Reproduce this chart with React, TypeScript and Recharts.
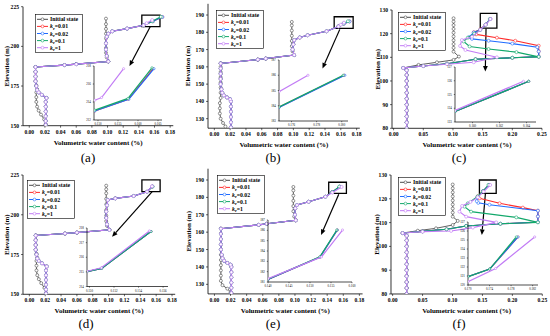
import React from 'react';
import { ScatterChart, Scatter, XAxis, YAxis, ReferenceArea, ReferenceLine } from 'recharts';

type P = [number, number];

// ---------- colours ----------
const C_INIT = '#4a4a4a';
const C_RED = '#ff2b2b';
const C_BLUE = '#1f6bff';
const C_GREEN = '#12a86b';
const C_PURPLE = '#c27cf5';

// ---------- tick labels ----------
const xTicksA = [0, 0.02, 0.04, 0.06, 0.08, 0.1, 0.12, 0.14, 0.16, 0.18];
const xTicksC = [0, 0.05, 0.1, 0.15, 0.2, 0.25];
const yTicksA = [150, 175, 200, 225];
const yTicksB = [130, 140, 150, 160, 170, 180, 190];
const yTicksC = [80, 90, 100, 110, 120, 130];

// ---------- panel (a) ----------
const aInit: P[] = [[0.021,151],[0.019,154],[0.015,157],[0.012,159.5],[0.010,162],[0.009,165],[0.009,168],[0.009,171],[0.010,173],[0.009,175.5],[0.008,178],[0.008,181],[0.008,184],[0.008,187],[0.045,188.2],[0.060,188.8],[0.101,190.5],[0.099,193],[0.098,196],[0.098,199],[0.098,202],[0.098,205],[0.098,208],[0.098,211],[0.098,214],[0.098,217.5]];
const aLow: P[] = [[0.021,150.5],[0.021,153],[0.021,156],[0.021,159],[0.021,162],[0.021,165],[0.022,167.5],[0.016,169.5],[0.012,171],[0.010,172.5],[0.009,175],[0.008,178],[0.008,181],[0.008,184],[0.008,187],[0.045,188.2],[0.060,188.8],[0.101,190.5],[0.099,194],[0.098,198],[0.098,202],[0.099,206],[0.101,208],[0.106,209.5],[0.125,211.2],[0.146,213.3]];
const aRed: P[] = [...aLow, [0.158,215.8],[0.170,218.5]];
const aBlue: P[] = [...aLow, [0.158,215.8],[0.170,218.5]];
const aGreen: P[] = [...aLow, [0.157,215.8],[0.168,218.6]];
const aPurple: P[] = [...aLow, [0.150,214.6],[0.157,216.6]];
const aInsRed: P[] = [[0.1492,213.0],[0.1576,214.3],[0.1638,217.7]];
const aInsBlue: P[] = [[0.1492,213.0],[0.1577,214.3],[0.1640,217.7]];
const aInsGreen: P[] = [[0.1492,213.1],[0.1575,214.4],[0.1635,217.8]];
const aInsPurple: P[] = [[0.1492,214.2],[0.1509,214.5],[0.1564,217.7]];

// ---------- panel (b) ----------
const bInit: P[] = [[0.014,125.5],[0.011,127.5],[0.008,130],[0.007,133],[0.007,136],[0.007,139],[0.008,142],[0.008,145],[0.008,148],[0.008,151],[0.008,154],[0.008,157],[0.008,160],[0.008,162],[0.055,164.2],[0.065,164.8],[0.101,166.8],[0.099,169],[0.098,172],[0.098,175],[0.098,178],[0.098,181],[0.098,184],[0.098,186]];
const bLow: P[] = [[0.021,125],[0.021,128],[0.021,131],[0.021,134],[0.021,137],[0.021,140],[0.020,141.3],[0.016,142.3],[0.012,143.5],[0.010,145],[0.009,147],[0.008,150],[0.008,153],[0.008,156],[0.008,159],[0.008,162],[0.055,164.2],[0.065,164.8],[0.101,166.8],[0.099,170],[0.100,173],[0.101,175.5],[0.108,177],[0.118,178.3],[0.142,180.6],[0.157,183.4]];
const bRed: P[] = [...bLow, [0.164,185],[0.171,186.3]];
const bBlue: P[] = [...bLow, [0.164,185],[0.171,186.3]];
const bGreen: P[] = [...bLow, [0.163,185],[0.169,186.4]];
const bPurple: P[] = [...bLow, [0.160,184.4],[0.164,185.6]];
const bInsRed: P[] = [[0.175,183.9],[0.1802,186]];
const bInsBlue: P[] = [[0.175,183.88],[0.18025,186]];
const bInsGreen: P[] = [[0.175,183.92],[0.18012,186]];
const bInsPurple: P[] = [[0.175,184.92],[0.17731,186]];

// ---------- panel (c) ----------
const cLow: P[] = [[0.022,80],[0.022,82.5],[0.022,85],[0.022,87.5],[0.022,90],[0.022,92.5],[0.022,95],[0.022,97.5],[0.022,100],[0.022,102.5],[0.022,104.5],[0.016,105.5]];
const cInit: P[] = [...cLow, [0.042,106.8],[0.073,107.9],[0.101,108.9],[0.110,110.3],[0.101,112.4],[0.101,114],[0.101,115.6],[0.101,117.2],[0.101,118.8],[0.101,120.4],[0.101,122],[0.101,123.6],[0.101,125.1],[0.101,126.5]];
const cRed: P[] = [...cLow, [0.050,106.3],[0.090,107.3],[0.138,109.2],[0.200,109.8],[0.2445,110.3],[0.2445,112.5],[0.2445,114.9],[0.205,117],[0.174,118.3],[0.139,119.7],[0.135,120.6],[0.146,121.8],[0.155,123.8],[0.163,126.2]];
const cBlue: P[] = [...cLow, [0.050,106.3],[0.090,107.3],[0.138,109.2],[0.200,109.8],[0.2445,110.3],[0.2445,112.5],[0.242,114.3],[0.200,115.8],[0.160,117],[0.132,117.8],[0.127,118.5],[0.135,120.5],[0.146,121.6],[0.155,123.8],[0.163,126.2]];
const cGreen: P[] = [...cLow, [0.050,106.3],[0.090,107.3],[0.138,109.2],[0.200,109.8],[0.2445,110.2],[0.207,112.2],[0.160,113.5],[0.128,114.6],[0.118,116.7],[0.125,118.3],[0.136,120],[0.146,121.6],[0.155,123.8],[0.162,126.2]];
const cPurple: P[] = [...cLow, [0.050,106.3],[0.090,107.1],[0.135,107.9],[0.174,110],[0.121,113.1],[0.112,114.8],[0.115,117.3],[0.132,118.7],[0.146,121.6],[0.155,123.8],[0.163,126.2]];
const cInsRed: P[] = [[0.1587,123.76],[0.16416,125.96]];
const cInsBlue: P[] = [[0.1587,123.76],[0.16416,125.96]];
const cInsGreen: P[] = [[0.1587,123.76],[0.16416,125.96]];
const cInsPurple: P[] = [[0.1587,123.84],[0.16377,125.96]];

// ---------- panel (d) ----------
const dInit: P[] = [[0.021,151],[0.019,154],[0.015,157],[0.012,159.5],[0.010,162],[0.009,165],[0.009,168],[0.009,171],[0.010,173],[0.009,175.5],[0.008,178],[0.008,181],[0.008,184],[0.008,187],[0.045,188.2],[0.060,188.8],[0.101,190.5],[0.098,193],[0.097,196],[0.097,199.5],[0.097,203],[0.097,206.5],[0.097,210],[0.097,213.5],[0.097,216],[0.097,218.3]];
const dLow: P[] = [[0.021,150.5],[0.021,153],[0.021,156],[0.021,159],[0.021,162],[0.021,165],[0.022,167.5],[0.016,169.5],[0.012,171],[0.010,172.5],[0.009,175],[0.008,178],[0.008,181],[0.008,184],[0.008,187],[0.045,188.2],[0.060,188.8],[0.101,190.5],[0.098,194],[0.097,198],[0.097,202],[0.098,206],[0.099,209.3],[0.1085,210.3],[0.1317,211.8],[0.1485,214.5]];
const dRed: P[] = [...dLow, [0.1552,217.8]];
const dBlue: P[] = [...dLow, [0.1552,217.8]];
const dGreen: P[] = [...dLow, [0.1555,217.7]];
const dPurple: P[] = [...dLow, [0.1548,217.9]];
const dInsRed: P[] = [[0.1498,215.02],[0.15099,215.24],[0.15501,217.76]];
const dInsBlue: P[] = [[0.1498,215.02],[0.15099,215.24],[0.15501,217.76]];
const dInsGreen: P[] = [[0.1498,215.02],[0.15099,215.24],[0.15501,217.76]];
const dInsPurple: P[] = [[0.1498,215.04],[0.15097,215.28],[0.15488,217.8]];

// ---------- panel (e) ----------
const eInit: P[] = [[0.020,125.5],[0.016,127.5],[0.010,129.5],[0.008,132],[0.008,135],[0.008,138],[0.008,141],[0.008,144],[0.008,147],[0.008,150],[0.008,153],[0.008,156],[0.008,159],[0.008,162],[0.055,164.2],[0.065,164.8],[0.101,166.8],[0.099,169],[0.098,172],[0.098,175],[0.098,178],[0.098,181],[0.098,184],[0.098,186]];
const eLow: P[] = [[0.021,125],[0.021,128],[0.021,131],[0.021,134],[0.021,137],[0.021,140],[0.020,141.3],[0.016,142.3],[0.012,143.5],[0.010,145],[0.009,147],[0.008,150],[0.008,153],[0.008,156],[0.008,159],[0.008,162],[0.055,164.2],[0.065,164.8],[0.101,166.8],[0.100,170],[0.1004,173.7],[0.1025,175.6],[0.117,177.5],[0.1378,180.4]];
const eRed: P[] = [...eLow, [0.1462,183],[0.1555,186.2]];
const eBlue: P[] = [...eLow, [0.1462,183],[0.1555,186.2]];
const eGreen: P[] = [...eLow, [0.146,183],[0.155,186.2]];
const ePurple: P[] = [...eLow, [0.1465,182.8],[0.158,186]];
const eInsRed: P[] = [[0.140,181.24],[0.1524,183.42],[0.1565,186.03]];
const eInsBlue: P[] = [[0.140,181.24],[0.1524,183.42],[0.1565,186.03]];
const eInsGreen: P[] = [[0.140,181.26],[0.15234,183.43],[0.15638,186.03]];
const eInsPurple: P[] = [[0.140,181.32],[0.15274,183.43],[0.15774,186.03]];

// ---------- panel (f) ----------
const fLow: P[] = [[0.0234,80],[0.0234,82.5],[0.0234,85],[0.0234,87.5],[0.0234,90],[0.0234,92.5],[0.0234,95],[0.0234,97.5],[0.0234,100],[0.0234,102.5],[0.0234,104.5],[0.0167,105.6]];
const fInit: P[] = [...fLow, [0.042,106.6],[0.0725,107.6],[0.1004,109],[0.1088,110.7],[0.1004,112.5],[0.1004,114.2],[0.1004,115.9],[0.1004,117.6],[0.1004,119.3],[0.1004,121],[0.1004,122.7],[0.1004,124.4],[0.1004,126]];
const fRed: P[] = [...fLow, [0.050,106.3],[0.090,107.2],[0.1228,108.6],[0.180,109.5],[0.2427,110.2],[0.2427,112.6],[0.2427,115],[0.2176,116.3],[0.1786,118.1],[0.145,120.2],[0.142,121],[0.151,123.2],[0.161,125.8]];
const fBlue: P[] = [...fLow, [0.050,106.3],[0.090,107.2],[0.1228,108.6],[0.180,109.5],[0.2427,110.2],[0.2427,112.6],[0.2427,115],[0.1618,117.5],[0.143,118.3],[0.1406,119],[0.142,120.8],[0.151,123.2],[0.161,125.8]];
const fGreen: P[] = [...fLow, [0.050,106.3],[0.090,107.2],[0.1228,108.6],[0.180,109.5],[0.2427,110.1],[0.2065,112.2],[0.131,114.6],[0.120,116.7],[0.1256,118.1],[0.142,121],[0.151,123.2],[0.160,125.8]];
const fPurple: P[] = [...fLow, [0.050,106.2],[0.0977,106.5],[0.134,107.9],[0.173,110.1],[0.1228,112.5],[0.1116,114.6],[0.116,117],[0.130,118.7],[0.1423,120.6],[0.152,123],[0.163,125.8]];
const fInsRed: P[] = [[0.170,120.92],[0.17403,121.77],[0.17928,125.34]];
const fInsBlue: P[] = [[0.170,120.92],[0.17403,121.77],[0.17928,125.34]];
const fInsGreen: P[] = [[0.170,120.92],[0.17403,121.77],[0.17897,125.34]];
const fInsPurple: P[] = [[0.170,120.37],[0.17514,121.84],[0.18238,125.34]];

// ---------- legend ----------
const legendNames = ['Initial state', '0.01', '0.02', '0.1', '1'];
const legendColors = [C_INIT, C_RED, C_BLUE, C_GREEN, C_PURPLE];

const FONT = '"Liberation Serif", "Times New Roman", serif';
const toXY = (a: P[]) => a.map(([x, y]) => ({ x, y }));

const tickStyle = { fontSize: 5.6, fontWeight: 'bold', fill: '#000', fontFamily: FONT } as any;
const insTickStyle = { fontSize: 3.1, fill: '#000', fontFamily: FONT } as any;

const arrowShape = (p: any) => {
  const { x1, y1, x2, y2 } = p;
  if ([x1, y1, x2, y2].some((v) => typeof v !== 'number' || isNaN(v))) return <g />;
  const dx = x2 - x1, dy = y2 - y1;
  const len = Math.hypot(dx, dy) || 1;
  const ux = dx / len, uy = dy / len;
  const hl = 5.5, hw = 2.4;
  const bx = x2 - ux * hl, by = y2 - uy * hl;
  const pts = `${x2},${y2} ${bx - uy * hw},${by + ux * hw} ${bx + uy * hw},${by - ux * hw}`;
  return (
    <g>
      <line x1={x1} y1={y1} x2={bx} y2={by} stroke="#000" strokeWidth={1.2} />
      <polygon points={pts} fill="#000" />
    </g>
  );
};

function dotShape(color: string, r: number) {
  return (p: any) => (
    <circle cx={p.cx} cy={p.cy} r={r} fill="#fff" stroke={color} strokeWidth={0.6} />
  );
}

function seriesEls(list: { d: P[]; c: string }[], r: number, w: number) {
  return list.map((s, i) => (
    <Scatter
      key={i}
      data={toXY(s.d)}
      fill={s.c}
      line={{ stroke: s.c, strokeWidth: s.c === C_INIT ? w * 0.8 : w }}
      lineType="joint"
      shape={dotShape(s.c, r)}
      isAnimationActive={false}
    />
  ));
}

type PanelCfg = {
  ax0: number; ax1: number; ay0: number; ay1: number; top: number;
  xDomain: [number, number]; yDomain: [number, number];
  xTicks: number[]; yTicks: number[];
  series: { d: P[]; c: string }[];
  box: [number, number, number, number];
  arrow: [number, number, number, number];
  ylabX: number;
};

function Panel({ cfg }: { cfg: PanelCfg }) {
  const yw = 30;
  const mr = 7;
  const xh = 23;
  const L = cfg.ax0 - yw;
  const T = cfg.top;
  const W = cfg.ax1 + mr - L;
  const H = cfg.ay1 + xh - T;
  return (
    <div style={{ position: 'absolute', left: L, top: T }}>
      <ScatterChart width={W} height={H} margin={{ top: cfg.ay0 - T, right: mr, bottom: 0, left: 0 }}>
        <XAxis
          type="number" dataKey="x" domain={cfg.xDomain} ticks={cfg.xTicks} allowDataOverflow interval={0}
          tickFormatter={(v: number) => v.toFixed(2)} height={xh} tick={tickStyle} tickSize={2}
          axisLine={{ stroke: '#000', strokeWidth: 0.8 }} tickLine={{ stroke: '#000', strokeWidth: 0.6 }}
          label={{ value: 'Volumetric water content (%)', position: 'insideBottom', offset: 4, style: { fontSize: 7, fontWeight: 'bold', fill: '#000', fontFamily: FONT } }}
        />
        <YAxis
          type="number" dataKey="y" domain={cfg.yDomain} ticks={cfg.yTicks} allowDataOverflow interval={0}
          width={yw} tick={tickStyle} tickSize={2}
          axisLine={{ stroke: '#000', strokeWidth: 0.8 }} tickLine={{ stroke: '#000', strokeWidth: 0.6 }}
          label={{ value: 'Elevation (m)', angle: -90, position: 'insideLeft', offset: cfg.ylabX - L, style: { textAnchor: 'middle', fontSize: 7, fontWeight: 'bold', fill: '#000', fontFamily: FONT } }}
        />
        {seriesEls(cfg.series, 1.5, 1.1)}
        <ReferenceArea x1={cfg.box[0]} x2={cfg.box[1]} y1={cfg.box[2]} y2={cfg.box[3]} fill="none" fillOpacity={0} stroke="#000" strokeWidth={1.3} ifOverflow="visible" />
        <ReferenceLine
          segment={[{ x: cfg.arrow[0], y: cfg.arrow[1] }, { x: cfg.arrow[2], y: cfg.arrow[3] }]}
          ifOverflow="visible" shape={arrowShape}
        />
      </ScatterChart>
    </div>
  );
}

type InsetCfg = {
  x0: number; x1: number; y0: number; y1: number;
  xDomain: [number, number]; yDomain: [number, number];
  xTicks: number[]; yTicks: number[];
  series: { d: P[]; c: string }[];
};

function Inset({ c }: { c: InsetCfg }) {
  const yw = 11, mt = 3, mr = 6, xh = 8;
  const L = c.x0 - yw, T = c.y0 - mt;
  const W = c.x1 + mr - L, H = c.y1 + xh - T;
  return (
    <div style={{ position: 'absolute', left: L, top: T }}>
      <ScatterChart width={W} height={H} margin={{ top: mt, right: mr, bottom: 0, left: 0 }}>
        <XAxis
          type="number" dataKey="x" domain={c.xDomain} ticks={c.xTicks} allowDataOverflow interval={0}
          tickFormatter={(v: number) => v.toFixed(3)} height={xh} tick={insTickStyle} tickSize={1.2}
          axisLine={{ stroke: '#000', strokeWidth: 0.7 }} tickLine={{ stroke: '#000', strokeWidth: 0.5 }}
        />
        <YAxis
          type="number" dataKey="y" domain={c.yDomain} ticks={c.yTicks} allowDataOverflow interval={0}
          width={yw} tick={insTickStyle} tickSize={1.2}
          axisLine={{ stroke: '#000', strokeWidth: 0.7 }} tickLine={{ stroke: '#000', strokeWidth: 0.5 }}
        />
        {seriesEls(c.series, 1.1, 1.2)}
      </ScatterChart>
    </div>
  );
}

function LegendBox({ left, top }: { left: number; top: number }) {
  const w = 48, h = 39;
  return (
    <svg style={{ position: 'absolute', left, top }} width={w} height={h}>
      <rect x={0.5} y={0.5} width={w - 1} height={h - 1} fill="#fff" stroke="#000" strokeWidth={0.6} />
      {legendNames.map((n, i) => {
        const cy = 5.3 + i * 7.1;
        const col = legendColors[i];
        return (
          <g key={i}>
            <line x1={2} x2={13} y1={cy} y2={cy} stroke={col} strokeWidth={1} />
            <circle cx={7.5} cy={cy} r={1.4} fill="#fff" stroke={col} strokeWidth={0.6} />
            <text x={15} y={cy + 2} fontSize={5.8} fontWeight="bold" fontFamily={FONT} fill="#000">
              {i === 0 ? (
                n
              ) : (
                <>
                  <tspan fontStyle="italic">k</tspan>
                  <tspan fontSize={4} dy={1.2}>r</tspan>
                  <tspan dy={-1.2}>{'=' + n}</tspan>
                </>
              )}
            </text>
          </g>
        );
      })}
    </svg>
  );
}

const S = (init: P[], red: P[], blue: P[], green: P[], purple: P[]) => [
  { d: init, c: C_INIT }, { d: red, c: C_RED }, { d: blue, c: C_BLUE }, { d: green, c: C_GREEN }, { d: purple, c: C_PURPLE },
];
const SI = (red: P[], blue: P[], green: P[], purple: P[]) => [
  { d: red, c: C_RED }, { d: blue, c: C_BLUE }, { d: green, c: C_GREEN }, { d: purple, c: C_PURPLE },
];

const panels: PanelCfg[] = [
  { ax0: 22.7, ax1: 173, ay0: 6.7, ay1: 125.7, top: 0, xDomain: [-0.008, 0.184], yDomain: [150, 225], xTicks: xTicksA, yTicks: yTicksA,
    series: S(aInit, aRed, aBlue, aGreen, aPurple), box: [0.1438, 0.167, 212.4, 219.7], arrow: [0.1545, 212.4, 0.128, 187.6], ylabX: 6 },
  { ax0: 208, ax1: 359.8, ay0: 3.8, ay1: 128.2, top: 0, xDomain: [-0.008, 0.184], yDomain: [124.5, 196.5], xTicks: xTicksA, yTicks: yTicksB,
    series: S(bInit, bRed, bBlue, bGreen, bPurple), box: [0.1516, 0.1756, 182.3, 189], arrow: [0.1587, 181.7, 0.1368, 159.1], ylabX: 188 },
  { ax0: 391.7, ax1: 541.7, ay0: 10, ay1: 128.3, top: 0, xDomain: [-0.0027, 0.25], yDomain: [80, 130], xTicks: xTicksC, yTicks: yTicksC,
    series: S(cInit, cRed, cBlue, cGreen, cPurple), box: [0.146, 0.174, 122.3, 128.6], arrow: [0.1557, 122.2, 0.1545, 104], ylabX: 377 },
  { ax0: 22.7, ax1: 174.9, ay0: 175, ay1: 294.3, top: 165, xDomain: [-0.008, 0.184], yDomain: [150, 225], xTicks: xTicksA, yTicks: yTicksA,
    series: S(dInit, dRed, dBlue, dGreen, dPurple), box: [0.142, 0.165, 214.6, 221.9], arrow: [0.155, 214.5, 0.1044, 186.2], ylabX: 6 },
  { ax0: 207.6, ax1: 362.2, ay0: 168.7, ay1: 293.9, top: 165, xDomain: [-0.008, 0.184], yDomain: [124.5, 196.5], xTicks: xTicksA, yTicks: yTicksB,
    series: S(eInit, eRed, eBlue, eGreen, ePurple), box: [0.1419, 0.1639, 182.3, 188.7], arrow: [0.1544, 181.8, 0.1324, 158.4], ylabX: 188 },
  { ax0: 391.4, ax1: 542.7, ay0: 175, ay1: 294, top: 165, xDomain: [-0.0027, 0.25], yDomain: [80, 130], xTicks: xTicksC, yTicks: yTicksC,
    series: S(fInit, fRed, fBlue, fGreen, fPurple), box: [0.145, 0.173, 122.3, 127.9], arrow: [0.155, 122.2, 0.149, 104.8], ylabX: 377 },
];

const insets: InsetCfg[] = [
  { x0: 94, x1: 162, y0: 66, y1: 120, xDomain: [0.149, 0.166], yDomain: [212, 218], xTicks: [0.15, 0.155, 0.16, 0.165], yTicks: [212, 214, 216, 218],
    series: SI(aInsRed, aInsBlue, aInsGreen, aInsPurple) },
  { x0: 279, x1: 348, y0: 60, y1: 121, xDomain: [0.175, 0.1805], yDomain: [183, 187], xTicks: [0.176, 0.178, 0.18], yTicks: [183, 184, 185, 186, 187],
    series: SI(bInsRed, bInsBlue, bInsGreen, bInsPurple) },
  { x0: 455, x1: 536, y0: 67, y1: 122, xDomain: [0.1587, 0.1647], yDomain: [123, 127], xTicks: [0.16, 0.162, 0.164], yTicks: [123, 124, 125, 126, 127],
    series: SI(cInsRed, cInsBlue, cInsGreen, cInsPurple) },
  { x0: 87, x1: 168, y0: 228, y1: 286.5, xDomain: [0.1498, 0.1564], yDomain: [214, 218], xTicks: [0.15, 0.152, 0.154, 0.156], yTicks: [214, 215, 216, 217, 218],
    series: SI(dInsRed, dInsBlue, dInsGreen, dInsPurple) },
  { x0: 268, x1: 352, y0: 220, y1: 282, xDomain: [0.14, 0.16], yDomain: [181, 187], xTicks: [0.14, 0.145, 0.15, 0.155, 0.16], yTicks: [181, 182, 183, 184, 185, 186, 187],
    series: SI(eInsRed, eInsBlue, eInsGreen, eInsPurple) },
  { x0: 468, x1: 538, y0: 222, y1: 285, xDomain: [0.17, 0.183], yDomain: [120, 127], xTicks: [0.17, 0.174, 0.178, 0.182], yTicks: [120, 121, 122, 123, 124, 125, 126, 127],
    series: SI(fInsRed, fInsBlue, fInsGreen, fInsPurple) },
];

const legendPos: [number, number][] = [[35, 14], [216, 10], [398, 12], [27, 180], [217, 175], [398, 177]];
const panelLabels = ['(a)', '(b)', '(c)', '(d)', '(e)', '(f)'];
const labelPos: [number, number][] = [[88, 157.5], [273, 157.5], [459, 157.5], [86, 323.5], [273, 323.5], [459, 323.5]];

export default function App() {
  return (
    <div style={{ position: 'absolute', left: 0, top: 0, width: 550, height: 336, background: '#fff', overflow: 'hidden', fontFamily: FONT }}>
      {panels.map((p, i) => (
        <Panel key={'p' + i} cfg={p} />
      ))}
      {insets.map((c, i) => (
        <Inset key={'i' + i} c={c} />
      ))}
      {legendPos.map(([l, t], i) => (
        <LegendBox key={'l' + i} left={l} top={t} />
      ))}
      {panelLabels.map((s, i) => (
        <div
          key={'t' + i}
          style={{ position: 'absolute', left: labelPos[i][0] - 20, top: labelPos[i][1] - 6.5, width: 40, textAlign: 'center', fontSize: 13, lineHeight: '13px', fontFamily: FONT, color: '#000' }}
        >
          {s}
        </div>
      ))}
    </div>
  );
}
